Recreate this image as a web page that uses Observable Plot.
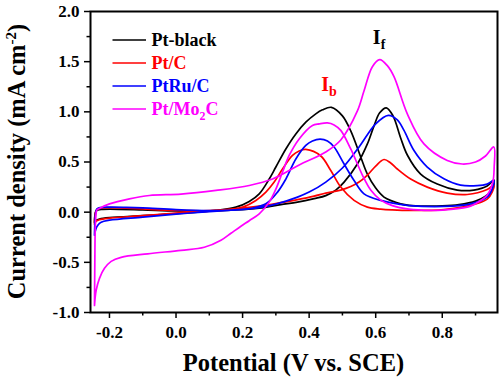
<!DOCTYPE html>
<html><head><meta charset="utf-8">
<script src="https://cdn.jsdelivr.net/npm/d3@7"></script>
<script src="https://cdn.jsdelivr.net/npm/@observablehq/plot@0.6"></script>
<style>body{margin:0;background:#fff}</style>
</head><body><div id="chart"></div>
<script>
// Potential (V vs. SCE), current density (mA cm-2) pairs, traced along each CV loop
const blackFwd = [[-0.245,-0.10],[-0.244,-0.04],[-0.241,0.005],[-0.235,0.022],[-0.22,0.028],[-0.2,0.03],[-0.1,0.022],[0.0,0.012],[0.1,0.012],[0.165,0.02],[0.25,0.04],[0.315,0.075],[0.365,0.1],[0.415,0.135],[0.45,0.165],[0.48,0.22],[0.505,0.3],[0.545,0.48],[0.575,0.68],[0.595,0.86],[0.612,0.99],[0.632,1.04],[0.652,0.96],[0.675,0.74],[0.695,0.57],[0.735,0.38],[0.785,0.28],[0.845,0.22],[0.895,0.22],[0.935,0.26],[0.955,0.32]];
const blackBwd = [[0.955,0.32],[0.95,0.22],[0.93,0.16],[0.9,0.11],[0.85,0.075],[0.8,0.062],[0.75,0.06],[0.7,0.068],[0.675,0.083],[0.65,0.11],[0.625,0.15],[0.6,0.24],[0.575,0.38],[0.555,0.55],[0.525,0.81],[0.5,0.96],[0.467,1.045],[0.44,1.02],[0.42,0.98],[0.39,0.897],[0.36,0.78],[0.33,0.63],[0.3,0.45],[0.28,0.33],[0.25,0.183],[0.22,0.107],[0.18,0.05],[0.12,0.017],[0.0,-0.015],[-0.1,-0.035],[-0.2,-0.055],[-0.23,-0.068],[-0.24,-0.08],[-0.245,-0.10]];
const redFwd = [[-0.245,-0.12],[-0.244,-0.05],[-0.241,0.01],[-0.235,0.035],[-0.22,0.042],[-0.2,0.045],[-0.15,0.04],[-0.1,0.032],[0.0,0.018],[0.1,0.015],[0.165,0.03],[0.25,0.06],[0.315,0.095],[0.365,0.125],[0.415,0.16],[0.45,0.19],[0.495,0.22],[0.525,0.255],[0.55,0.3],[0.575,0.37],[0.6,0.46],[0.625,0.525],[0.645,0.49],[0.665,0.43],[0.705,0.33],[0.755,0.25],[0.815,0.19],[0.875,0.176],[0.935,0.225],[0.955,0.27]];
const redBwd = [[0.955,0.27],[0.95,0.2],[0.935,0.13],[0.885,0.067],[0.805,0.026],[0.705,0.017],[0.65,0.022],[0.615,0.03],[0.575,0.05],[0.535,0.117],[0.495,0.25],[0.465,0.415],[0.435,0.56],[0.39,0.625],[0.37,0.61],[0.35,0.565],[0.32,0.43],[0.295,0.3],[0.27,0.2],[0.24,0.117],[0.2,0.05],[0.165,0.028],[0.1,0.01],[0.0,-0.01],[-0.1,-0.035],[-0.2,-0.06],[-0.23,-0.075],[-0.24,-0.09],[-0.245,-0.12]];
const blueFwd = [[-0.245,-0.23],[-0.244,-0.12],[-0.242,-0.02],[-0.238,0.03],[-0.228,0.045],[-0.2,0.05],[-0.15,0.048],[-0.1,0.043],[0.0,0.025],[0.1,0.015],[0.165,0.02],[0.25,0.045],[0.3,0.08],[0.365,0.15],[0.4,0.2],[0.45,0.3],[0.5,0.44],[0.55,0.65],[0.6,0.88],[0.638,0.965],[0.665,0.92],[0.685,0.815],[0.715,0.615],[0.755,0.45],[0.805,0.333],[0.855,0.27],[0.905,0.265],[0.935,0.28],[0.955,0.316]];
const blueBwd = [[0.955,0.316],[0.95,0.23],[0.935,0.15],[0.885,0.083],[0.805,0.057],[0.7,0.066],[0.675,0.077],[0.615,0.117],[0.565,0.183],[0.535,0.316],[0.505,0.48],[0.475,0.65],[0.455,0.71],[0.433,0.728],[0.41,0.71],[0.39,0.665],[0.36,0.53],[0.33,0.33],[0.305,0.2],[0.27,0.083],[0.22,0.033],[0.165,0.02],[0.1,0.005],[0.0,-0.02],[-0.1,-0.05],[-0.2,-0.08],[-0.225,-0.1],[-0.235,-0.13],[-0.241,-0.17],[-0.245,-0.23]];
const magentaFwd = [[-0.245,-0.93],[-0.244,-0.5],[-0.242,-0.1],[-0.238,0.02],[-0.232,0.035],[-0.2,0.083],[-0.14,0.133],[-0.08,0.166],[0.015,0.18],[0.12,0.217],[0.22,0.266],[0.29,0.33],[0.37,0.47],[0.45,0.6],[0.495,0.72],[0.545,1.01],[0.565,1.21],[0.59,1.45],[0.612,1.52],[0.635,1.46],[0.655,1.35],[0.695,0.98],[0.745,0.68],[0.815,0.515],[0.86,0.48],[0.9,0.5],[0.93,0.56],[0.955,0.65]];
const magentaBwd = [[0.955,0.65],[0.956,0.45],[0.952,0.3],[0.935,0.17],[0.9,0.085],[0.875,0.05],[0.8,0.02],[0.765,0.017],[0.7,0.03],[0.65,0.065],[0.615,0.12],[0.585,0.22],[0.56,0.37],[0.525,0.63],[0.495,0.815],[0.475,0.87],[0.455,0.89],[0.43,0.88],[0.41,0.864],[0.37,0.73],[0.34,0.565],[0.32,0.4],[0.3,0.23],[0.28,0.1],[0.25,-0.016],[0.22,-0.085],[0.195,-0.14],[0.165,-0.21],[0.135,-0.28],[0.085,-0.35],[0.015,-0.38],[-0.085,-0.415],[-0.165,-0.45],[-0.195,-0.49],[-0.215,-0.56],[-0.23,-0.66],[-0.24,-0.78],[-0.245,-0.93]];

const seriesNames = ["Pt-black", "Pt/C", "PtRu/C", "Pt/Mo2C"];
const seriesColors = ["#000000", "#ff0000", "#0000ff", "#ff00ff"];
const xMajorTicks = [-0.2, 0.0, 0.2, 0.4, 0.6, 0.8];
const xMinorTicks = [-0.1, 0.1, 0.3, 0.5, 0.7, 0.9];
const yMajorTicks = [-1.0, -0.5, 0.0, 0.5, 1.0, 1.5, 2.0];
const yMinorTicks = [-0.75, -0.25, 0.25, 0.75, 1.25, 1.75];
const peakLabels = [
  {main: "I", sub: "f", v: 0.593, i: 1.672, color: "#000000"},
  {main: "I", sub: "b", v: 0.438, i: 1.206, color: "#ff0000"}
];

const loops = [[blackFwd, blackBwd], [redFwd, redBwd], [blueFwd, blueBwd], [magentaFwd, magentaBwd]];
const data = loops.flatMap(([f, b], k) =>
  [...f, ...b.slice(1)].map(([v, i], n) => ({series: seriesNames[k], color: seriesColors[k], v, i, n})));

const font = "'Liberation Serif', 'Times New Roman', serif";
const fmt = d => d.toFixed(1);

const chart = Plot.plot({
  width: 500, height: 382,
  marginLeft: 90, marginRight: 3, marginTop: 11, marginBottom: 70,
  style: {fontFamily: font, fontSize: "17px", fontWeight: "bold", background: "white", color: "black"},
  x: {domain: [-0.257, 0.966]},
  y: {domain: [-1, 2]},
  marks: [
    Plot.axisX({ticks: xMajorTicks, tickSize: 6, tickPadding: 7, tickFormat: fmt, label: null, strokeWidth: 1.5}),
    Plot.axisX({ticks: xMinorTicks, tickSize: 3.5, fill: "none", label: null, strokeWidth: 1.5}),
    Plot.axisY({ticks: yMajorTicks, tickSize: 6, tickPadding: 5, tickFormat: fmt, label: null, strokeWidth: 1.5}),
    Plot.axisY({ticks: yMinorTicks, tickSize: 3.5, fill: "none", label: null, strokeWidth: 1.5}),
    Plot.line(data, {x: "v", y: "i", z: "series", stroke: "color", curve: "catmull-rom", strokeWidth: 1.7}),
    Plot.frame({strokeWidth: 2})
  ]
});

document.getElementById("chart").appendChild(chart);

const svg = d3.select(chart);
const xs = chart.scale("x"), ys = chart.scale("y");
const [x0, x1] = xs.range;
const [yb, yt] = ys.range;

// axis titles
svg.append("text")
  .attr("x", (x0 + x1) / 2).attr("y", 371)
  .attr("text-anchor", "middle")
  .style("font-family", font).style("font-size", "24.5px").style("font-weight", "bold")
  .text("Potential (V vs. SCE)");

const yt2 = svg.append("text")
  .attr("transform", `translate(25,${(yb + yt) / 2}) rotate(-90)`)
  .attr("text-anchor", "middle")
  .style("font-family", font).style("font-size", "24.5px").style("font-weight", "bold");
yt2.append("tspan").text("Current density (mA cm");
yt2.append("tspan").attr("dy", -9).style("font-size", "15px").text("-2");
yt2.append("tspan").attr("dy", 9).text(")");

// legend
const legend = svg.append("g").attr("text-anchor", "start");
seriesNames.forEach((name, k) => {
  const y = 40 + k * 23;
  legend.append("line").attr("x1", 112.5).attr("x2", 146).attr("y1", y).attr("y2", y)
    .attr("stroke", seriesColors[k]).attr("stroke-width", 1.7);
  const t = legend.append("text").attr("x", 151.5).attr("y", y + 6)
    .attr("text-anchor", "start")
    .attr("fill", seriesColors[k])
    .style("font-family", font).style("font-size", "18px").style("font-weight", "bold");
  const m = name.match(/^(.*Mo)(\d)(.*)$/);
  if (m) {
    t.append("tspan").text(m[1]);
    t.append("tspan").attr("dy", 5).style("font-size", "12px").text(m[2]);
    t.append("tspan").attr("dy", -5).text(m[3]);
  } else t.text(name);
});

// peak labels
peakLabels.forEach(p => {
  const t = svg.append("text").attr("x", xs.apply(p.v)).attr("y", ys.apply(p.i))
    .attr("text-anchor", "start")
    .attr("fill", p.color)
    .style("font-family", font).style("font-size", "20px").style("font-weight", "bold");
  t.append("tspan").text(p.main);
  t.append("tspan").attr("dy", 5).style("font-size", "14px").text(p.sub);
});
</script>
</body></html>
